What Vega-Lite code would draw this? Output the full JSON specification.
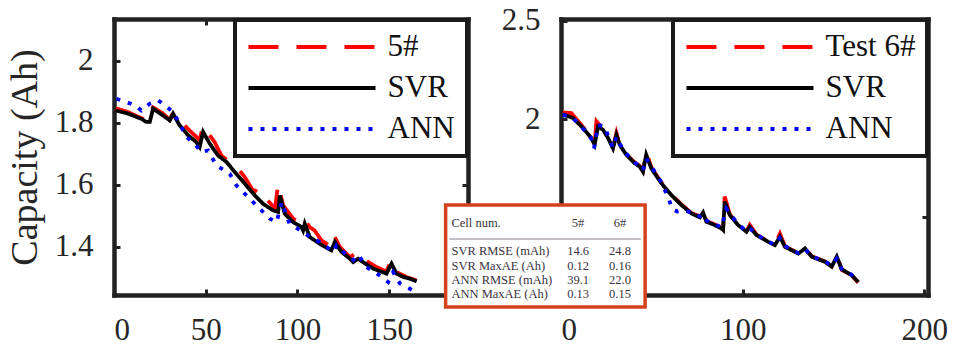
{
 "$schema": "https://vega.github.io/schema/vega-lite/v6.json",
 "background": "white",
 "padding": {"left": 6, "top": 4, "right": 2, "bottom": 0},
 "bounds": "flush",
 "spacing": 93,
 "config": {
  "view": {"stroke": null},
  "font": "Liberation Serif",
  "axis": {"grid": false, "domainColor": "#222222", "domainWidth": 4.5, "domainCap": "square", "tickColor": "#222222", "tickWidth": 3, "tickSize": -6, "labelFont": "Liberation Serif", "labelFontSize": 31, "labelColor": "#262626", "titleFont": "Liberation Serif", "titleFontSize": 38, "titleFontWeight": "normal", "titleColor": "#262626", "zindex": 0},
  "axisX": {"labelPadding": 26},
  "axisY": {"labelPadding": 27, "titlePadding": 10},
  "legend": {"orient": "top-right", "offset": 1, "labelFont": "Liberation Serif", "labelFontSize": 31, "labelColor": "#111111", "symbolType": "stroke", "symbolSize": 16129, "symbolStrokeWidth": 4, "clipHeight": 31, "rowPadding": 9, "labelOffset": 10, "padding": 11.5, "strokeColor": "#1a1a1a", "strokeWidth": 4, "fillColor": "white", "labelLimit": 300}
 },
 "datasets": {
  "left": [
   {"series":"5#","cycle":1,"capacity":1.847},{"series":"5#","cycle":7.6,"capacity":1.835},{"series":"5#","cycle":14.9,"capacity":1.815},{"series":"5#","cycle":18.5,"capacity":1.810},{"series":"5#","cycle":20.4,"capacity":1.853},{"series":"5#","cycle":26.7,"capacity":1.830},{"series":"5#","cycle":30.4,"capacity":1.810},{"series":"5#","cycle":32.2,"capacity":1.833},{"series":"5#","cycle":36.6,"capacity":1.803},{"series":"5#","cycle":41.1,"capacity":1.776},{"series":"5#","cycle":44.9,"capacity":1.755},{"series":"5#","cycle":46.7,"capacity":1.744},{"series":"5#","cycle":48.6,"capacity":1.792},{"series":"5#","cycle":52.2,"capacity":1.760},{"series":"5#","cycle":54.9,"capacity":1.738},{"series":"5#","cycle":58.5,"capacity":1.695},{"series":"5#","cycle":63.1,"capacity":1.674},{"series":"5#","cycle":67.7,"capacity":1.652},{"series":"5#","cycle":71.3,"capacity":1.625},{"series":"5#","cycle":76.5,"capacity":1.575},{"series":"5#","cycle":78,"capacity":1.590},{"series":"5#","cycle":82.3,"capacity":1.561},{"series":"5#","cycle":87.8,"capacity":1.523},{"series":"5#","cycle":89.5,"capacity":1.604},{"series":"5#","cycle":92.2,"capacity":1.534},{"series":"5#","cycle":97.7,"capacity":1.491},{"series":"5#","cycle":101.3,"capacity":1.480},{"series":"5#","cycle":103.1,"capacity":1.496},{"series":"5#","cycle":106.7,"capacity":1.464},{"series":"5#","cycle":109.4,"capacity":1.453},{"series":"5#","cycle":113.1,"capacity":1.421},{"series":"5#","cycle":118.5,"capacity":1.400},{"series":"5#","cycle":119.9,"capacity":1.437},{"series":"5#","cycle":123.1,"capacity":1.400},{"series":"5#","cycle":128.6,"capacity":1.367},{"series":"5#","cycle":133.1,"capacity":1.384},{"series":"5#","cycle":135.8,"capacity":1.362},{"series":"5#","cycle":143.1,"capacity":1.335},{"series":"5#","cycle":148.6,"capacity":1.320},{"series":"5#","cycle":151,"capacity":1.357},{"series":"5#","cycle":154,"capacity":1.319},{"series":"5#","cycle":159.5,"capacity":1.303},{"series":"5#","cycle":165,"capacity":1.292},
   {"series":"SVR","cycle":1,"capacity":1.840},{"series":"SVR","cycle":7.6,"capacity":1.830},{"series":"SVR","cycle":14.9,"capacity":1.813},{"series":"SVR","cycle":17.6,"capacity":1.803},{"series":"SVR","cycle":19.5,"capacity":1.803},{"series":"SVR","cycle":21.3,"capacity":1.846},{"series":"SVR","cycle":26.7,"capacity":1.824},{"series":"SVR","cycle":30.4,"capacity":1.808},{"series":"SVR","cycle":32.2,"capacity":1.830},{"series":"SVR","cycle":35.8,"capacity":1.792},{"series":"SVR","cycle":40.4,"capacity":1.760},{"series":"SVR","cycle":44.9,"capacity":1.738},{"series":"SVR","cycle":46.7,"capacity":1.722},{"series":"SVR","cycle":48.6,"capacity":1.771},{"series":"SVR","cycle":52.2,"capacity":1.733},{"series":"SVR","cycle":56.7,"capacity":1.695},{"series":"SVR","cycle":61.3,"capacity":1.674},{"series":"SVR","cycle":65.8,"capacity":1.642},{"series":"SVR","cycle":71.3,"capacity":1.604},{"series":"SVR","cycle":76.8,"capacity":1.566},{"series":"SVR","cycle":81.3,"capacity":1.539},{"series":"SVR","cycle":86.7,"capacity":1.518},{"series":"SVR","cycle":89.5,"capacity":1.513},{"series":"SVR","cycle":90.4,"capacity":1.566},{"series":"SVR","cycle":93.1,"capacity":1.507},{"series":"SVR","cycle":97.7,"capacity":1.480},{"series":"SVR","cycle":102.2,"capacity":1.464},{"series":"SVR","cycle":103.1,"capacity":1.453},{"series":"SVR","cycle":104,"capacity":1.475},{"series":"SVR","cycle":106.7,"capacity":1.432},{"series":"SVR","cycle":112.2,"capacity":1.410},{"series":"SVR","cycle":118.5,"capacity":1.389},{"series":"SVR","cycle":120.4,"capacity":1.416},{"series":"SVR","cycle":124,"capacity":1.384},{"series":"SVR","cycle":128.6,"capacity":1.362},{"series":"SVR","cycle":130.4,"capacity":1.351},{"series":"SVR","cycle":133.1,"capacity":1.362},{"series":"SVR","cycle":135.8,"capacity":1.351},{"series":"SVR","cycle":141.3,"capacity":1.330},{"series":"SVR","cycle":148.6,"capacity":1.314},{"series":"SVR","cycle":151.3,"capacity":1.346},{"series":"SVR","cycle":154,"capacity":1.314},{"series":"SVR","cycle":157.7,"capacity":1.303},{"series":"SVR","cycle":161.3,"capacity":1.298},{"series":"SVR","cycle":165,"capacity":1.289},
   {"series":"ANN","cycle":1.3,"capacity":1.878},{"series":"ANN","cycle":6.7,"capacity":1.867},{"series":"ANN","cycle":11.3,"capacity":1.857},{"series":"ANN","cycle":14.9,"capacity":1.840},{"series":"ANN","cycle":19.5,"capacity":1.862},{"series":"ANN","cycle":24,"capacity":1.873},{"series":"ANN","cycle":27.7,"capacity":1.857},{"series":"ANN","cycle":32.2,"capacity":1.835},{"series":"ANN","cycle":35.8,"capacity":1.797},{"series":"ANN","cycle":39.5,"capacity":1.754},{"series":"ANN","cycle":43.9,"capacity":1.733},{"series":"ANN","cycle":47.6,"capacity":1.706},{"series":"ANN","cycle":51.3,"capacity":1.711},{"series":"ANN","cycle":55.8,"capacity":1.663},{"series":"ANN","cycle":63.1,"capacity":1.636},{"series":"ANN","cycle":66.7,"capacity":1.599},{"series":"ANN","cycle":72.2,"capacity":1.566},{"series":"ANN","cycle":79.5,"capacity":1.523},{"series":"ANN","cycle":85,"capacity":1.491},{"series":"ANN","cycle":88.7,"capacity":1.480},{"series":"ANN","cycle":91.4,"capacity":1.545},{"series":"ANN","cycle":95.7,"capacity":1.475},{"series":"ANN","cycle":103.1,"capacity":1.448},{"series":"ANN","cycle":106.7,"capacity":1.432},{"series":"ANN","cycle":112.2,"capacity":1.416},{"series":"ANN","cycle":119.5,"capacity":1.384},{"series":"ANN","cycle":121.3,"capacity":1.405},{"series":"ANN","cycle":125,"capacity":1.384},{"series":"ANN","cycle":132.2,"capacity":1.351},{"series":"ANN","cycle":134,"capacity":1.367},{"series":"ANN","cycle":137.6,"capacity":1.335},{"series":"ANN","cycle":144.9,"capacity":1.308},{"series":"ANN","cycle":149.5,"capacity":1.287},{"series":"ANN","cycle":152.2,"capacity":1.319},{"series":"ANN","cycle":155.9,"capacity":1.282},{"series":"ANN","cycle":161.3,"capacity":1.265},{"series":"ANN","cycle":163.5,"capacity":1.258}
  ],
  "right": [
   {"series":"Test 6#","cycle":1,"capacity":2.035},{"series":"Test 6#","cycle":5.7,"capacity":2.031},{"series":"Test 6#","cycle":12.1,"capacity":1.960},{"series":"Test 6#","cycle":16.7,"capacity":1.908},{"series":"Test 6#","cycle":18.5,"capacity":1.872},{"series":"Test 6#","cycle":19.5,"capacity":1.989},{"series":"Test 6#","cycle":23.1,"capacity":1.950},{"series":"Test 6#","cycle":25.9,"capacity":1.906},{"series":"Test 6#","cycle":28.6,"capacity":1.855},{"series":"Test 6#","cycle":30.5,"capacity":1.930},{"series":"Test 6#","cycle":32.3,"capacity":1.872},{"series":"Test 6#","cycle":35.9,"capacity":1.822},{"series":"Test 6#","cycle":40.5,"capacity":1.780},{"series":"Test 6#","cycle":43.3,"capacity":1.762},{"series":"Test 6#","cycle":45.1,"capacity":1.736},{"series":"Test 6#","cycle":46.9,"capacity":1.836},{"series":"Test 6#","cycle":49.7,"capacity":1.755},{"series":"Test 6#","cycle":55.2,"capacity":1.678},{"series":"Test 6#","cycle":60.7,"capacity":1.617},{"series":"Test 6#","cycle":66.3,"capacity":1.566},{"series":"Test 6#","cycle":71.8,"capacity":1.522},{"series":"Test 6#","cycle":76.5,"capacity":1.505},{"series":"Test 6#","cycle":78.2,"capacity":1.540},{"series":"Test 6#","cycle":80,"capacity":1.482},{"series":"Test 6#","cycle":84.6,"capacity":1.464},{"series":"Test 6#","cycle":88.3,"capacity":1.446},{"series":"Test 6#","cycle":89.2,"capacity":1.440},{"series":"Test 6#","cycle":90.1,"capacity":1.606},{"series":"Test 6#","cycle":92.9,"capacity":1.515},{"series":"Test 6#","cycle":97.5,"capacity":1.463},{"series":"Test 6#","cycle":102.1,"capacity":1.430},{"series":"Test 6#","cycle":103.9,"capacity":1.462},{"series":"Test 6#","cycle":107.6,"capacity":1.412},{"series":"Test 6#","cycle":114,"capacity":1.378},{"series":"Test 6#","cycle":117.7,"capacity":1.362},{"series":"Test 6#","cycle":120.5,"capacity":1.418},{"series":"Test 6#","cycle":123.3,"capacity":1.352},{"series":"Test 6#","cycle":130.6,"capacity":1.318},{"series":"Test 6#","cycle":134.3,"capacity":1.345},{"series":"Test 6#","cycle":138,"capacity":1.302},{"series":"Test 6#","cycle":145.3,"capacity":1.276},{"series":"Test 6#","cycle":149,"capacity":1.250},{"series":"Test 6#","cycle":151.8,"capacity":1.310},{"series":"Test 6#","cycle":154.5,"capacity":1.233},{"series":"Test 6#","cycle":160,"capacity":1.206},{"series":"Test 6#","cycle":163.6,"capacity":1.168},
   {"series":"SVR","cycle":1,"capacity":2.025},{"series":"SVR","cycle":6.6,"capacity":2.006},{"series":"SVR","cycle":12.1,"capacity":1.955},{"series":"SVR","cycle":16.7,"capacity":1.904},{"series":"SVR","cycle":18.5,"capacity":1.870},{"series":"SVR","cycle":20.4,"capacity":1.963},{"series":"SVR","cycle":23.1,"capacity":1.946},{"series":"SVR","cycle":25.9,"capacity":1.904},{"series":"SVR","cycle":28.6,"capacity":1.852},{"series":"SVR","cycle":30.5,"capacity":1.920},{"series":"SVR","cycle":32.3,"capacity":1.870},{"series":"SVR","cycle":35.9,"capacity":1.819},{"series":"SVR","cycle":40.5,"capacity":1.776},{"series":"SVR","cycle":43.3,"capacity":1.759},{"series":"SVR","cycle":45.1,"capacity":1.733},{"series":"SVR","cycle":46.9,"capacity":1.819},{"series":"SVR","cycle":49.7,"capacity":1.750},{"series":"SVR","cycle":55.2,"capacity":1.674},{"series":"SVR","cycle":60.7,"capacity":1.614},{"series":"SVR","cycle":66.3,"capacity":1.563},{"series":"SVR","cycle":71.8,"capacity":1.520},{"series":"SVR","cycle":76.5,"capacity":1.500},{"series":"SVR","cycle":78.2,"capacity":1.525},{"series":"SVR","cycle":80,"capacity":1.478},{"series":"SVR","cycle":84.6,"capacity":1.461},{"series":"SVR","cycle":88.3,"capacity":1.444},{"series":"SVR","cycle":89.2,"capacity":1.436},{"series":"SVR","cycle":90.1,"capacity":1.580},{"series":"SVR","cycle":92.9,"capacity":1.512},{"series":"SVR","cycle":97.5,"capacity":1.461},{"series":"SVR","cycle":102.1,"capacity":1.427},{"series":"SVR","cycle":103.9,"capacity":1.452},{"series":"SVR","cycle":107.6,"capacity":1.410},{"series":"SVR","cycle":114,"capacity":1.376},{"series":"SVR","cycle":117.7,"capacity":1.359},{"series":"SVR","cycle":120.5,"capacity":1.401},{"series":"SVR","cycle":123.3,"capacity":1.350},{"series":"SVR","cycle":130.6,"capacity":1.316},{"series":"SVR","cycle":134.3,"capacity":1.342},{"series":"SVR","cycle":138,"capacity":1.300},{"series":"SVR","cycle":145.3,"capacity":1.274},{"series":"SVR","cycle":149,"capacity":1.250},{"series":"SVR","cycle":151.8,"capacity":1.300},{"series":"SVR","cycle":154.5,"capacity":1.236},{"series":"SVR","cycle":160,"capacity":1.206},{"series":"SVR","cycle":163.6,"capacity":1.171},
   {"series":"ANN","cycle":1,"capacity":2.022},{"series":"ANN","cycle":6.6,"capacity":2.006},{"series":"ANN","cycle":12.1,"capacity":1.952},{"series":"ANN","cycle":16.7,"capacity":1.900},{"series":"ANN","cycle":18.2,"capacity":1.852},{"series":"ANN","cycle":20.4,"capacity":1.970},{"series":"ANN","cycle":24,"capacity":1.963},{"series":"ANN","cycle":25.9,"capacity":1.915},{"series":"ANN","cycle":28.6,"capacity":1.855},{"series":"ANN","cycle":30.5,"capacity":1.910},{"series":"ANN","cycle":32.3,"capacity":1.875},{"series":"ANN","cycle":35.9,"capacity":1.825},{"series":"ANN","cycle":40.5,"capacity":1.780},{"series":"ANN","cycle":43.3,"capacity":1.760},{"series":"ANN","cycle":45.1,"capacity":1.740},{"series":"ANN","cycle":46.9,"capacity":1.800},{"series":"ANN","cycle":49.7,"capacity":1.760},{"series":"ANN","cycle":55.2,"capacity":1.680},{"series":"ANN","cycle":59.5,"capacity":1.590},{"series":"ANN","cycle":61,"capacity":1.545},{"series":"ANN","cycle":64,"capacity":1.530},{"series":"ANN","cycle":68,"capacity":1.535},{"series":"ANN","cycle":71.8,"capacity":1.525},{"series":"ANN","cycle":76.5,"capacity":1.505},{"series":"ANN","cycle":78.2,"capacity":1.515},{"series":"ANN","cycle":80,"capacity":1.485},{"series":"ANN","cycle":84.6,"capacity":1.465},{"series":"ANN","cycle":88.3,"capacity":1.450},{"series":"ANN","cycle":91,"capacity":1.545},{"series":"ANN","cycle":92.9,"capacity":1.520},{"series":"ANN","cycle":97.5,"capacity":1.465},{"series":"ANN","cycle":102.1,"capacity":1.430},{"series":"ANN","cycle":103.9,"capacity":1.445},{"series":"ANN","cycle":107.6,"capacity":1.412},{"series":"ANN","cycle":114,"capacity":1.378},{"series":"ANN","cycle":117.7,"capacity":1.360},{"series":"ANN","cycle":120.5,"capacity":1.395},{"series":"ANN","cycle":123.3,"capacity":1.355},{"series":"ANN","cycle":130.6,"capacity":1.318},{"series":"ANN","cycle":134.3,"capacity":1.338},{"series":"ANN","cycle":138,"capacity":1.302},{"series":"ANN","cycle":145.3,"capacity":1.276},{"series":"ANN","cycle":149,"capacity":1.255},{"series":"ANN","cycle":151.8,"capacity":1.290},{"series":"ANN","cycle":154.5,"capacity":1.238},{"series":"ANN","cycle":160,"capacity":1.208},{"series":"ANN","cycle":163.6,"capacity":1.174}
  ],
  "table": [
   {"row":"Cell num.","cell5":"5#","cell6":"6#"},
   {"row":"SVR RMSE (mAh)","cell5":"14.6","cell6":"24.8"},
   {"row":"SVR MaxAE (Ah)","cell5":"0.12","cell6":"0.16"},
   {"row":"ANN RMSE (mAh)","cell5":"39.1","cell6":"22.0"},
   {"row":"ANN MaxAE (Ah)","cell5":"0.13","cell6":"0.15"}
  ]
 },
 "resolve": {"scale": {"color": "independent", "strokeDash": "independent"}, "legend": {"color": "independent", "strokeDash": "independent"}},
 "hconcat": [
  {
   "width": 354, "height": 276,
   "data": {"name": "left"},
   "layer": [
    {
     "mark": {"type": "line", "strokeWidth": 3.8},
     "encoding": {
      "x": {"field": "cycle", "type": "quantitative", "scale": {"domain": [0, 193], "nice": false, "zero": false}, "axis": {"orient": "bottom", "values": [0, 50, 100, 150], "title": null}},
      "y": {"field": "capacity", "type": "quantitative", "scale": {"domain": [1.245, 2.135], "nice": false, "zero": false}, "axis": {"orient": "left", "values": [1.4, 1.6, 1.8, 2], "format": "~g", "title": "Capacity (Ah)", "titleFontSize": 38, "titleFont": "Liberation Serif", "titleFontWeight": "normal", "titleLimit": 400}},
      "color": {"field": "series", "type": "nominal", "title": null, "scale": {"domain": ["5#", "SVR", "ANN"], "range": ["#FF0000", "#000000", "#0000FF"]}},
      "strokeDash": {"field": "series", "type": "nominal", "title": null, "scale": {"domain": ["5#", "SVR", "ANN"], "range": [[30, 18], [1, 0], [4, 8]]}}
     }
    },
    {
     "mark": {"type": "line", "opacity": 0},
     "encoding": {
      "x": {"field": "cycle", "type": "quantitative", "axis": {"orient": "top", "values": [0, 50, 100, 150], "labels": false, "title": null}},
      "y": {"field": "capacity", "type": "quantitative", "axis": {"orient": "right", "values": [1.4, 1.6, 1.8, 2], "labels": false, "title": null}},
      "detail": {"field": "series"}
     }
    }
   ],
   "resolve": {"axis": {"x": "independent", "y": "independent"}}
  },
  {
   "width": 367, "height": 276,
   "layer": [
    {
     "data": {"name": "right"},
     "layer": [
      {
       "mark": {"type": "line", "strokeWidth": 3.8},
       "encoding": {
        "x": {"field": "cycle", "type": "quantitative", "scale": {"domain": [0, 202], "nice": false, "zero": false}, "axis": {"orient": "bottom", "values": [0, 100, 200], "title": null}},
        "y": {"field": "capacity", "type": "quantitative", "scale": {"domain": [1.105, 2.51], "nice": false, "zero": false}, "axis": {"orient": "left", "values": [1.5, 2, 2.5], "format": "~g", "title": null}},
        "color": {"field": "series", "type": "nominal", "title": null, "scale": {"domain": ["Test 6#", "SVR", "ANN"], "range": ["#FF0000", "#000000", "#0000FF"]}},
        "strokeDash": {"field": "series", "type": "nominal", "title": null, "scale": {"domain": ["Test 6#", "SVR", "ANN"], "range": [[30, 18], [1, 0], [4, 8]]}}
       }
      },
      {
       "mark": {"type": "line", "opacity": 0},
       "encoding": {
        "x": {"field": "cycle", "type": "quantitative", "axis": {"orient": "top", "values": [0, 100, 200], "labels": false, "title": null}},
        "y": {"field": "capacity", "type": "quantitative", "axis": {"orient": "right", "values": [1.5, 2, 2.5], "labels": false, "title": null}},
        "detail": {"field": "series"}
       }
      },
      {
       "data": {"values": [{"box": "table"}]},
       "mark": {"type": "rect", "fill": "white", "stroke": "#D6401C", "strokeWidth": 3.5},
       "encoding": {
        "x": {"datum": -63.5, "type": "quantitative", "axis": null},
        "x2": {"datum": 46.3},
        "y": {"datum": 1.563, "type": "quantitative", "axis": null},
        "y2": {"datum": 1.044}
       }
      },
      {
       "data": {"values": [{"rule": "mid"}]},
       "mark": {"type": "rule", "color": "#8a8090", "strokeWidth": 1},
       "encoding": {
        "x": {"datum": -61.5, "type": "quantitative", "axis": null},
        "x2": {"datum": 44},
        "y": {"datum": 1.390, "type": "quantitative", "axis": null}
       }
      }
     ],
     "resolve": {"axis": {"x": "independent", "y": "independent"}}
    },
    {
     "data": {"name": "table"},
     "encoding": {
      "y": {"field": "row", "type": "nominal", "axis": null, "scale": {"type": "point", "padding": 0, "domain": ["Cell num.", " ", "SVR RMSE (mAh)", "SVR MaxAE (Ah)", "ANN RMSE (mAh)", "ANN MaxAE (Ah)"], "range": [204, 275]}}
     },
     "layer": [
      {"mark": {"type": "text", "align": "left", "baseline": "middle", "font": "Liberation Serif", "fontSize": 12.5, "color": "#3a3340"}, "encoding": {"x": {"datum": -60.3, "type": "quantitative", "axis": null}, "text": {"field": "row"}}},
      {"mark": {"type": "text", "align": "center", "baseline": "middle", "font": "Liberation Serif", "fontSize": 12.5, "color": "#3a3340"}, "encoding": {"x": {"datum": 9.4, "type": "quantitative", "axis": null}, "text": {"field": "cell5"}}},
      {"mark": {"type": "text", "align": "center", "baseline": "middle", "font": "Liberation Serif", "fontSize": 12.5, "color": "#3a3340"}, "encoding": {"x": {"datum": 32.5, "type": "quantitative", "axis": null}, "text": {"field": "cell6"}}}
     ]
    }
   ],
   "resolve": {"scale": {"y": "independent"}}
  }
 ]
}
